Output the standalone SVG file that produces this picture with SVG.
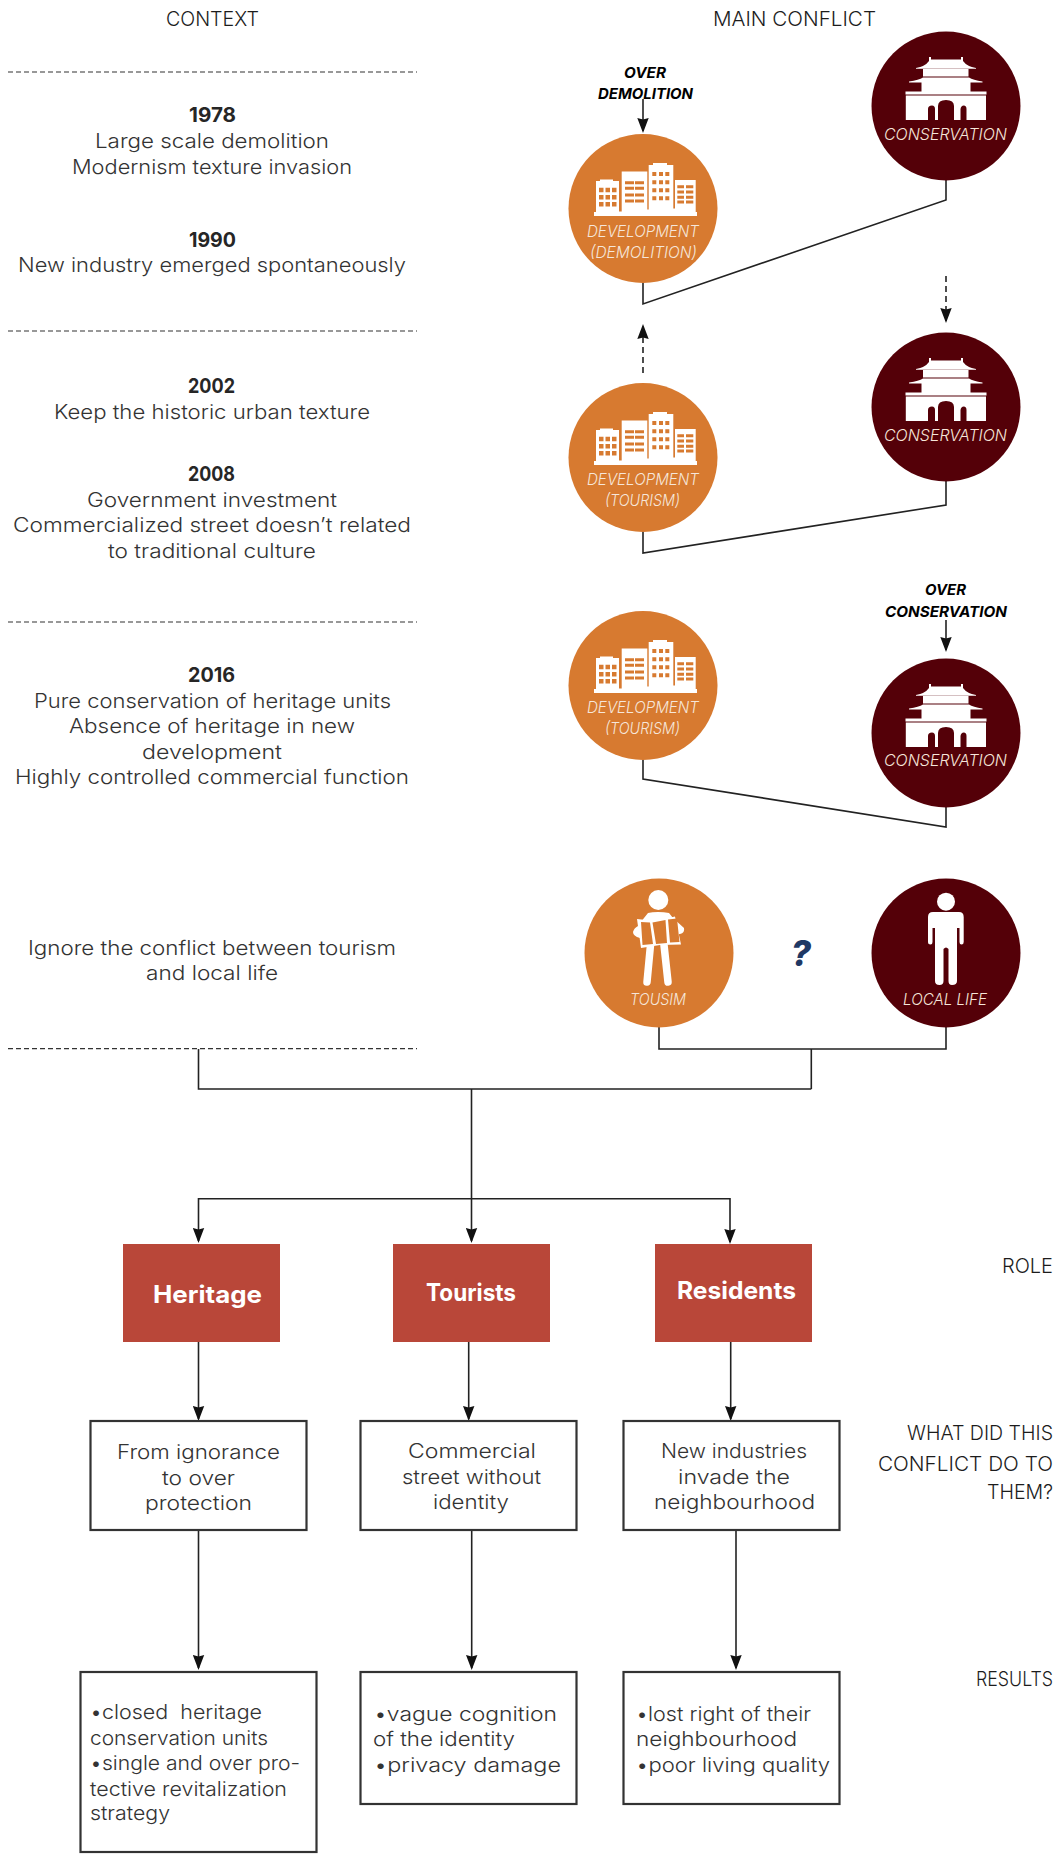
<svg xmlns="http://www.w3.org/2000/svg" width="1058" height="1854" viewBox="0 0 1058 1854">
<style>
text{font-family:"Inter","Noto Sans","Liberation Sans",sans-serif;white-space:pre}
.b{font-size:20px;font-weight:300;fill:#333}
.h{font-size:20px;font-weight:300;fill:#1c1c1c}
.y{font-size:20px;font-weight:700;fill:#262626}
.c{font-size:16.5px;font-weight:300;font-style:italic;fill:#f6e6da}
.o{font-size:15px;font-weight:700;font-style:italic;fill:#000}
.r{font-size:24px;font-weight:700;fill:#fff}
.ln{fill:none;stroke:#222;stroke-width:1.6}
.ar{marker-end:url(#ah)}
.da{stroke-dasharray:6 4}
.dv{fill:none;stroke:#333;stroke-width:1.2;stroke-dasharray:5 3}
.bx{fill:#fff;stroke:#333;stroke-width:2.2}
.rd{fill:#b94739}
.or{fill:#d77a30}
.dk{fill:#540008}
</style>
<defs>
<marker id="ah" markerUnits="userSpaceOnUse" markerWidth="15" markerHeight="12" viewBox="0 0 15 12" refX="13" refY="6" orient="auto"><path d="M0,0.3L15,6L0,11.7L1.5,6Z" fill="#111"/></marker>
<g id="bld">
<path fill="#fff" d="M-49,3.5H-47V-27.5H-43V-29H-30V-27.5H-24V3H-21.3V-37H4.3V1H5.7V-43.5H10V-45.5H24V-43.5H30.3V0H32V-28.5H52.7V3.5H54V7.5H-49Z"/>
<g fill="#d77a30"><path d="M-44,-20.8h4.5v4.5h-4.5zM-37.5,-20.8h4.5v4.5h-4.5zM-31,-20.8h4.5v4.5h-4.5zM-44,-13.5h4.5v4.5h-4.5zM-37.5,-13.5h4.5v4.5h-4.5zM-31,-13.5h4.5v4.5h-4.5zM-44,-6.5h4.5v4.5h-4.5zM-37.5,-6.5h4.5v4.5h-4.5zM-31,-6.5h4.5v4.5h-4.5z"/>
<path d="M-18,-27.3h9v3h-9zM-8,-27.3h9v3h-9zM-18,-21.7h9v3h-9zM-8,-21.7h9v3h-9zM-18,-15h9v3h-9zM-8,-15h9v3h-9zM-18,-9h9v3h-9zM-8,-9h9v3h-9z"/>
<path d="M9.3,-36.5h4v4h-4zM16,-36.5h4v4h-4zM22.3,-36.5h4v4h-4zM9.3,-28.2h4v4h-4zM16,-28.2h4v4h-4zM22.3,-28.2h4v4h-4zM9.3,-20.2h4v4h-4zM16,-20.2h4v4h-4zM22.3,-20.2h4v4h-4zM9.3,-12.2h4v4h-4zM16,-12.2h4v4h-4zM22.3,-12.2h4v4h-4z"/>
<path d="M34.3,-23.3h6.7v3h-6.7zM43,-23.3h7.3v3h-7.3zM34.3,-18h6.7v3h-6.7zM43,-18h7.3v3h-7.3zM34.3,-12.7h6.7v3h-6.7zM43,-12.7h7.3v3h-7.3zM34.3,-8h6.7v3h-6.7zM43,-8h7.3v3h-7.3z"/></g>
</g>
<g id="tmp">
<path fill="#fff" d="M-40.5,-14.5H40.5V-11.5H-40.5ZM-40.2,-10.4H40V14H20.5V3Q20.5,-0.5 17.8,-0.5Q15,-0.5 14.5,3V14H8V0Q8,-6 0,-6Q-8,-6 -8,0V14H-11V3Q-11,-0.5 -14,-0.5Q-18,-0.5 -18,3V14H-40.2ZM-24.5,-14.5V-23.5H24.5V-14.5ZM-37,-24.5Q-27,-26 -23,-28.5H23Q27,-26 36.5,-24.5V-23.6H-37ZM-23,-29.5V-37H22.5V-29.5ZM-30,-38Q-21,-39.5 -17,-45V-49H-15V-46.5H15V-49H17V-45Q21,-39.5 30,-38V-37.2H-30Z"/>
</g>
</defs>

<g id="connectors">
<path class="dv" d="M8,72H417M8,331H417M8,622H417M8,1048.7H417"/>
<path class="ln" d="M643,283V304L946,200V180"/>
<path class="ln" d="M643,532V553L946,505V481"/>
<path class="ln" d="M643,760V779L946,827V807"/>
<path class="ln ar" d="M643,99V131"/>
<path class="ln ar" d="M946,620V650"/>
<path class="ln ar da" d="M946,276V321"/>
<path class="ln ar da" d="M643,373V326"/>
<path class="ln" d="M659,1027V1049H946V1027M811.3,1049V1089M198.500,1049V1089H811.3"/>
<path class="ln ar" d="M471.500,1089V1241"/>
<path class="ln ar" d="M471.500,1198.7H198.500V1241"/>
<path class="ln ar" d="M471.500,1198.7H730V1242"/>
<path class="ln ar" d="M198.500,1342V1419"/>
<path class="ln ar" d="M468.700,1342V1419"/>
<path class="ln ar" d="M730.700,1342V1419"/>
<path class="ln ar" d="M198.500,1530V1668"/>
<path class="ln ar" d="M471.700,1530V1668"/>
<path class="ln ar" d="M736,1530V1668"/>
</g>

<g id="context-text">
<text class="h" x="166" y="26" textLength="93" lengthAdjust="spacingAndGlyphs">CONTEXT</text>
<text class="y" x="189" y="122" textLength="47" lengthAdjust="spacingAndGlyphs">1978</text>
<text class="b" x="95" y="148" textLength="234" lengthAdjust="spacingAndGlyphs">Large scale demolition</text>
<text class="b" x="72" y="174" textLength="280" lengthAdjust="spacingAndGlyphs">Modernism texture invasion</text>
<text class="y" x="189" y="247" textLength="47" lengthAdjust="spacingAndGlyphs">1990</text>
<text class="b" x="18" y="272" textLength="388" lengthAdjust="spacingAndGlyphs">New industry emerged spontaneously</text>
<text class="y" x="188" y="393" textLength="47" lengthAdjust="spacingAndGlyphs">2002</text>
<text class="b" x="54" y="419" textLength="316" lengthAdjust="spacingAndGlyphs">Keep the historic urban texture</text>
<text class="y" x="188" y="481" textLength="47" lengthAdjust="spacingAndGlyphs">2008</text>
<text class="b" x="87" y="507" textLength="250" lengthAdjust="spacingAndGlyphs">Government investment</text>
<text class="b" x="13" y="532" textLength="398" lengthAdjust="spacingAndGlyphs">Commercialized street doesn’t related</text>
<text class="b" x="108" y="558" textLength="208" lengthAdjust="spacingAndGlyphs">to traditional culture</text>
<text class="y" x="188" y="682" textLength="47" lengthAdjust="spacingAndGlyphs">2016</text>
<text class="b" x="34" y="708" textLength="357" lengthAdjust="spacingAndGlyphs">Pure conservation of heritage units</text>
<text class="b" x="69" y="733" textLength="286" lengthAdjust="spacingAndGlyphs">Absence of heritage in new</text>
<text class="b" x="142" y="759" textLength="140" lengthAdjust="spacingAndGlyphs">development</text>
<text class="b" x="15" y="784" textLength="394" lengthAdjust="spacingAndGlyphs">Highly controlled commercial function</text>
<text class="b" x="28" y="955" textLength="368" lengthAdjust="spacingAndGlyphs">Ignore the conflict between tourism</text>
<text class="b" x="146" y="980" textLength="132" lengthAdjust="spacingAndGlyphs">and local life</text>
</g>

<g id="side-labels">
<text class="h" x="713" y="26" textLength="163" lengthAdjust="spacingAndGlyphs">MAIN CONFLICT</text>
<text class="h" x="1002" y="1273" textLength="51" lengthAdjust="spacingAndGlyphs">ROLE</text>
<text class="h" x="907" y="1440" textLength="146" lengthAdjust="spacingAndGlyphs">WHAT DID THIS</text>
<text class="h" x="878" y="1471" textLength="175" lengthAdjust="spacingAndGlyphs">CONFLICT DO TO</text>
<text class="h" x="987" y="1499" textLength="66" lengthAdjust="spacingAndGlyphs">THEM?</text>
<text class="h" x="976" y="1686" textLength="77" lengthAdjust="spacingAndGlyphs">RESULTS</text>
</g>

<g id="over-demolition">
<text class="o" x="624" y="78" textLength="42" lengthAdjust="spacingAndGlyphs">OVER</text>
<text class="o" x="598" y="99" textLength="95" lengthAdjust="spacingAndGlyphs">DEMOLITION</text>
</g>
<g id="over-conservation">
<text class="o" x="925" y="595" textLength="41" lengthAdjust="spacingAndGlyphs">OVER</text>
<text class="o" x="885" y="617" textLength="122" lengthAdjust="spacingAndGlyphs">CONSERVATION</text>
</g>

<g id="development-demolition">
<circle class="or" cx="643" cy="208.500" r="74.500"/><use href="#bld" x="643" y="208.500"/>
<text class="c" x="587" y="237" textLength="112" lengthAdjust="spacingAndGlyphs">DEVELOPMENT</text>
<text class="c" x="590" y="258" textLength="107" lengthAdjust="spacingAndGlyphs">(DEMOLITION)</text>
</g>
<g id="conservation-1">
<circle class="dk" cx="946" cy="106" r="74.500"/><use href="#tmp" x="946" y="106"/>
<text class="c" x="884" y="140" textLength="123" lengthAdjust="spacingAndGlyphs">CONSERVATION</text>
</g>
<g id="development-tourism-1">
<circle class="or" cx="643" cy="457.500" r="74.500"/><use href="#bld" x="643" y="457.500"/>
<text class="c" x="587" y="485" textLength="112" lengthAdjust="spacingAndGlyphs">DEVELOPMENT</text>
<text class="c" x="605" y="506" textLength="75" lengthAdjust="spacingAndGlyphs">(TOURISM)</text>
</g>
<g id="conservation-2">
<circle class="dk" cx="946" cy="407" r="74.500"/><use href="#tmp" x="946" y="407"/>
<text class="c" x="884" y="441" textLength="123" lengthAdjust="spacingAndGlyphs">CONSERVATION</text>
</g>
<g id="development-tourism-2">
<circle class="or" cx="643" cy="685.500" r="74.500"/><use href="#bld" x="643" y="685.500"/>
<text class="c" x="587" y="713" textLength="112" lengthAdjust="spacingAndGlyphs">DEVELOPMENT</text>
<text class="c" x="605" y="734" textLength="75" lengthAdjust="spacingAndGlyphs">(TOURISM)</text>
</g>
<g id="conservation-3">
<circle class="dk" cx="946" cy="733" r="74.500"/><use href="#tmp" x="946" y="733"/>
<text class="c" x="884" y="766" textLength="123" lengthAdjust="spacingAndGlyphs">CONSERVATION</text>
</g>

<g id="tourism">
<circle class="or" cx="659" cy="953" r="74.500"/>
<circle cx="658.300" cy="900" r="10" fill="#fff"/>
<path fill="#fff" d="M648,913Q652,912 658,912Q664,912 669,913L673,918L684,928Q685,933 680,934L640,938Q633,936 633,932Q634,928 638,926L644,918Z"/>
<path fill="none" stroke="#fff" stroke-width="7.500" stroke-linecap="round" d="M650.500,945L647,982M664,945L668,982"/>
<path fill="#fff" d="M637,919L655,921L675,916.500L681,944.500L660,945L641,948Z"/>
<path class="or" d="M641,922L650,922.500L653,944L642.500,945ZM652.500,922.500L665.500,920L667,943L656,944ZM668,919.500L677,918.500L679.500,942L670,942.500Z"/>
<text class="c" x="630" y="1005" textLength="56" lengthAdjust="spacingAndGlyphs">TOUSIM</text>
</g>
<g id="question">
<text x="791" y="966" textLength="20" lengthAdjust="spacingAndGlyphs" style="font-size:36px;font-weight:800;font-style:italic;fill:#1f3864">?</text>
</g>
<g id="local-life">
<circle class="dk" cx="946" cy="953" r="74.500"/>
<circle cx="946" cy="901.700" r="9" fill="#fff"/>
<path fill="#fff" d="M933,912H959Q963.700,912 963.700,917V942Q963.700,944.500 961.500,944.500Q959.500,944.500 959.500,942V928H957V981Q957,985 952,985Q948.500,985 948.500,981V949Q946,946 943.500,949V981Q943.500,985 939.500,985Q935,985 935,981V928H932.500V942Q932.500,944.500 930.500,944.500Q928,944.500 928,942V917Q928,912 933,912Z"/>
<text class="c" x="903" y="1005" textLength="84" lengthAdjust="spacingAndGlyphs">LOCAL LIFE</text>
</g>

<g id="role-heritage"><rect class="rd" x="123" y="1244" width="157" height="98"/><text class="r" x="153" y="1303" textLength="109" lengthAdjust="spacingAndGlyphs">Heritage</text></g>
<g id="role-tourists"><rect class="rd" x="393" y="1244" width="157" height="98"/><text class="r" x="426" y="1301" textLength="90" lengthAdjust="spacingAndGlyphs">Tourists</text></g>
<g id="role-residents"><rect class="rd" x="655" y="1244" width="157" height="98"/><text class="r" x="677" y="1299" textLength="119" lengthAdjust="spacingAndGlyphs">Residents</text></g>

<g id="effect-heritage"><rect class="bx" x="90.500" y="1421" width="216" height="109"/>
<text class="b" x="117" y="1459" textLength="163" lengthAdjust="spacingAndGlyphs">From ignorance</text>
<text class="b" x="162" y="1485" textLength="73" lengthAdjust="spacingAndGlyphs">to over</text>
<text class="b" x="145" y="1510" textLength="107" lengthAdjust="spacingAndGlyphs">protection</text></g>
<g id="effect-tourists"><rect class="bx" x="360.500" y="1421" width="216" height="109"/>
<text class="b" x="408" y="1458" textLength="128" lengthAdjust="spacingAndGlyphs">Commercial</text>
<text class="b" x="402" y="1484" textLength="139" lengthAdjust="spacingAndGlyphs">street without</text>
<text class="b" x="433" y="1509" textLength="76" lengthAdjust="spacingAndGlyphs">identity</text></g>
<g id="effect-residents"><rect class="bx" x="623.500" y="1421" width="216" height="109"/>
<text class="b" x="661" y="1458" textLength="146" lengthAdjust="spacingAndGlyphs">New industries</text>
<text class="b" x="678" y="1484" textLength="112" lengthAdjust="spacingAndGlyphs">invade the</text>
<text class="b" x="654" y="1509" textLength="161" lengthAdjust="spacingAndGlyphs">neighbourhood</text></g>

<g id="result-heritage"><rect class="bx" x="80.500" y="1672" width="236" height="180"/>
<text class="b" x="90" y="1719" textLength="172" lengthAdjust="spacingAndGlyphs">•closed  heritage</text>
<text class="b" x="90" y="1745" textLength="178" lengthAdjust="spacingAndGlyphs">conservation units</text>
<text class="b" x="90" y="1770" textLength="210" lengthAdjust="spacingAndGlyphs">•single and over pro-</text>
<text class="b" x="90" y="1796" textLength="197" lengthAdjust="spacingAndGlyphs">tective revitalization</text>
<text class="b" x="90" y="1820" textLength="80" lengthAdjust="spacingAndGlyphs">strategy</text></g>
<g id="result-tourists"><rect class="bx" x="360.500" y="1672" width="216" height="132"/>
<text class="b" x="374" y="1721" textLength="183" lengthAdjust="spacingAndGlyphs">•vague cognition</text>
<text class="b" x="373" y="1746" textLength="142" lengthAdjust="spacingAndGlyphs">of the identity</text>
<text class="b" x="374" y="1772" textLength="187" lengthAdjust="spacingAndGlyphs">•privacy damage</text></g>
<g id="result-residents"><rect class="bx" x="623.500" y="1672" width="216" height="132"/>
<text class="b" x="636" y="1721" textLength="175" lengthAdjust="spacingAndGlyphs">•lost right of their</text>
<text class="b" x="636" y="1746" textLength="161" lengthAdjust="spacingAndGlyphs">neighbourhood</text>
<text class="b" x="636" y="1772" textLength="194" lengthAdjust="spacingAndGlyphs">•poor living quality</text></g>
</svg>
